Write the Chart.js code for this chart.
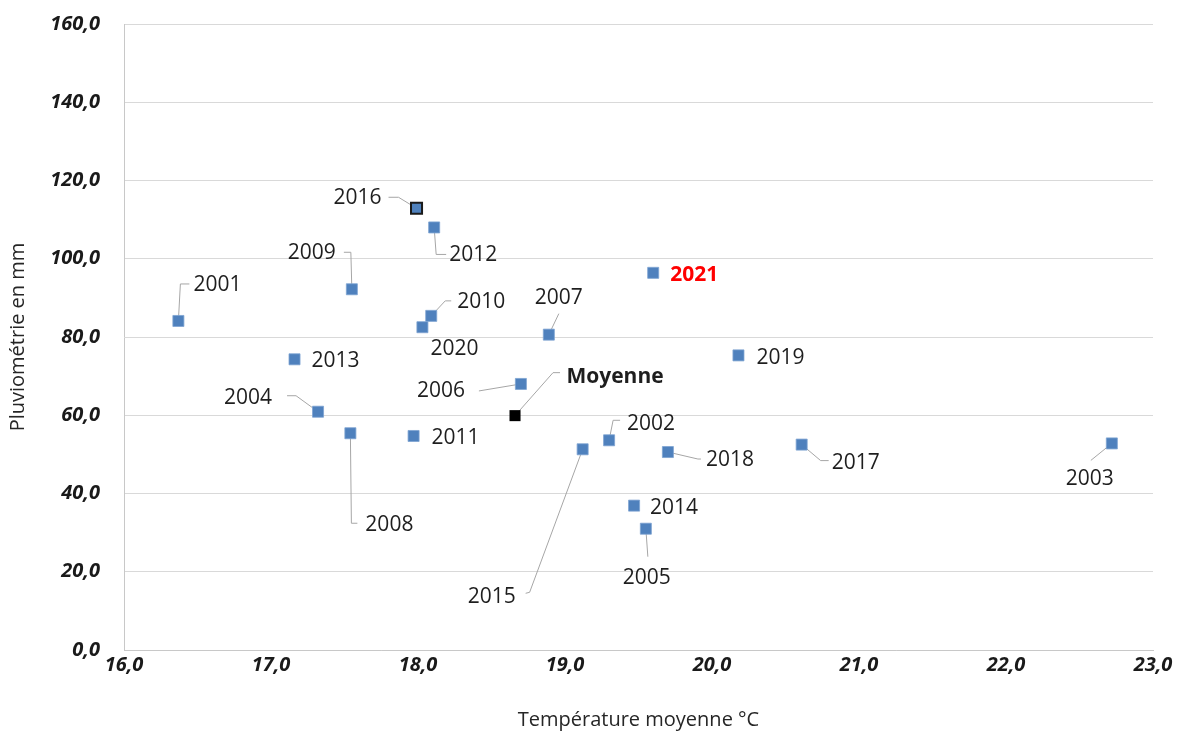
<!DOCTYPE html>
<html>
<head>
<meta charset="utf-8">
<script src="https://cdn.jsdelivr.net/npm/chart.js@4.4.1/dist/chart.umd.min.js"></script>
<style>
  html, body { margin: 0; padding: 0; background: #ffffff; }
  #wrap { width: 1177px; height: 733px; }
</style>
</head>
<body>
<div id="wrap"><canvas id="chart" width="1177" height="733"></canvas></div>
<script>
// Années, température moyenne (°C) et pluviométrie (mm)
const years = ['2001', '2002', '2003', '2004', '2005', '2006', '2007', '2008', '2009', '2010', '2011',
  '2012', '2013', '2014', '2015', '2016', '2017', '2018', '2019', '2020', '2021'];
const temperatures = [16.37, 19.30, 22.72, 17.32, 19.55, 18.70, 18.89, 17.54, 17.55, 18.09, 17.97,
  18.11, 17.16, 19.47, 19.12, 17.99, 20.61, 19.70, 20.18, 18.03, 19.60];
const rainfall = [84.1, 53.6, 52.8, 60.9, 31.0, 68.0, 80.6, 55.4, 92.2, 85.4, 54.7,
  108.0, 74.3, 36.9, 51.3, 112.9, 52.5, 50.6, 75.3, 82.5, 96.4];

const meanLabel = 'Moyenne';
const meanTemperature = [18.66];
const meanRainfall = [59.9];

const xTicks = [16, 17, 18, 19, 20, 21, 22, 23];
const yTicks = [0, 20, 40, 60, 80, 100, 120, 140, 160];

// Label placement (pixels, relative to the marker) and leader-line waypoints
const labelPlacement = {
  '2001': { d: [39, -37], lead: [[2, -37], [11, -37]] },
  '2002': { d: [42, -17], lead: [[4, -20], [11, -20]] },
  '2003': { d: [-22, 35], lead: [[-21, 17]] },
  '2004': { d: [-70, -15], lead: [[-22, -16], [-31, -16]] },
  '2005': { d: [1, 48], lead: [[2, 28]] },
  '2006': { d: [-80, 6], lead: [[-42, 7]] },
  '2007': { d: [10, -38], lead: [[10, -21]] },
  '2008': { d: [39, 91], lead: [[1, 90], [7, 90]] },
  '2009': { d: [-40, -37], lead: [[-1, -37], [-8, -37]] },
  '2010': { d: [50, -15], lead: [[14, -15], [20, -15]] },
  '2011': { d: [42, 1] },
  '2012': { d: [39, 27], lead: [[2, 27], [12, 27]] },
  '2013': { d: [41, 1] },
  '2014': { d: [40, 1] },
  '2015': { d: [-91, 147], lead: [[-53, 143], [-57, 144]] },
  '2016': { d: [-59, -11], lead: [[-18, -11], [-28, -11]] },
  '2017': { d: [54, 17], lead: [[19, 16], [27, 16]] },
  '2018': { d: [62, 7], lead: [[30, 7], [33, 7]] },
  '2019': { d: [42, 2] },
  '2020': { d: [32, 21] },
  '2021': { d: [41, 1], color: '#ff0000', bold: true },
  'Moyenne': { d: [100, -40], lead: [[38, -43], [45, -43]], bold: true }
};

const fmt = v => v.toFixed(1).replace('.', ',');

const pointLabels = {
  id: 'pointLabels',
  beforeDatasetsDraw(chart) {
    const ctx = chart.ctx;
    ctx.save();
    ctx.strokeStyle = '#a6a6a6';
    ctx.lineWidth = 1;
    chart.data.datasets.forEach((ds, di) => {
      const meta = chart.getDatasetMeta(di);
      meta.data.forEach((pt, i) => {
        const cfg = labelPlacement[ds.names[i]];
        if (!cfg || !cfg.lead) return;
        ctx.beginPath();
        ctx.moveTo(pt.x, pt.y);
        cfg.lead.forEach(p => ctx.lineTo(pt.x + p[0], pt.y + p[1]));
        ctx.stroke();
      });
    });
    ctx.restore();
  },
  afterDatasetsDraw(chart) {
    const ctx = chart.ctx;
    ctx.save();
    ctx.textAlign = 'center';
    ctx.textBaseline = 'middle';
    chart.data.datasets.forEach((ds, di) => {
      const meta = chart.getDatasetMeta(di);
      meta.data.forEach((pt, i) => {
        const name = ds.names[i];
        const cfg = labelPlacement[name];
        if (!cfg) return;
        ctx.font = (cfg.bold ? 'bold ' : '') + '21px "Open Sans", sans-serif';
        ctx.fillStyle = cfg.color || '#1e1e1e';
        ctx.fillText(name, pt.x + cfg.d[0], pt.y + cfg.d[1] + 1);
      });
    });
    ctx.restore();
  }
};

const tickFont = { family: '"Open Sans", sans-serif', size: 20, weight: 'bold', style: 'italic' };
const titleFont = { family: '"Open Sans", sans-serif', size: 20 };

new Chart(document.getElementById('chart'), {
  type: 'scatter',
  data: {
    datasets: [
      {
        names: years,
        data: years.map((y, i) => ({ x: temperatures[i], y: rainfall[i] })),
        pointStyle: 'rect',
        pointRadius: 7.8,
        pointHoverRadius: 7.8,
        backgroundColor: '#4f81bd',
        pointBorderColor: years.map(y => y === '2016' ? '#1a1a1a' : '#7ea3d2'),
        pointBorderWidth: years.map(y => y === '2016' ? 2 : 0.8)
      },
      {
        names: [meanLabel],
        data: meanTemperature.map((t, i) => ({ x: t, y: meanRainfall[i] })),
        pointStyle: 'rect',
        pointRadius: 7.8,
        pointHoverRadius: 7.8,
        backgroundColor: '#000000',
        borderColor: '#000000',
        pointBorderWidth: 0
      }
    ]
  },
  options: {
    responsive: false,
    animation: false,
    devicePixelRatio: 1,
    layout: { padding: { left: 0, right: 24, top: 24, bottom: 0 } },
    plugins: { legend: { display: false }, tooltip: { enabled: false } },
    scales: {
      x: {
        type: 'linear',
        min: xTicks[0],
        max: xTicks[xTicks.length - 1],
        afterBuildTicks: s => { s.ticks = xTicks.map(v => ({ value: v })); },
        afterFit: s => { s.height = 83; s.paddingLeft = 0; s.paddingRight = 0; },
        grid: { display: false, drawTicks: false },
        border: { display: true, color: '#c8c8c8', width: 1 },
        ticks: { callback: fmt, font: tickFont, color: '#1a1a1a', padding: 3, maxRotation: 0 },
        title: { display: true, text: 'Température moyenne °C', font: titleFont, color: '#262626', padding: { top: 0, bottom: 1 } }
      },
      y: {
        type: 'linear',
        min: yTicks[0],
        max: yTicks[yTicks.length - 1],
        afterBuildTicks: s => { s.ticks = yTicks.map(v => ({ value: v })); },
        afterFit: s => { s.width = 124; s.paddingTop = 0; s.paddingBottom = 0; },
        grid: { color: '#d9d9d9', lineWidth: 1, drawTicks: false },
        border: { display: true, color: '#c8c8c8', width: 1 },
        ticks: { callback: fmt, font: tickFont, color: '#1a1a1a', padding: 24 },
        title: { display: true, text: 'Pluviométrie en mm', font: titleFont, color: '#262626', padding: { top: 6, bottom: 0 } }
      }
    }
  },
  plugins: [pointLabels]
});
</script>
</body>
</html>
